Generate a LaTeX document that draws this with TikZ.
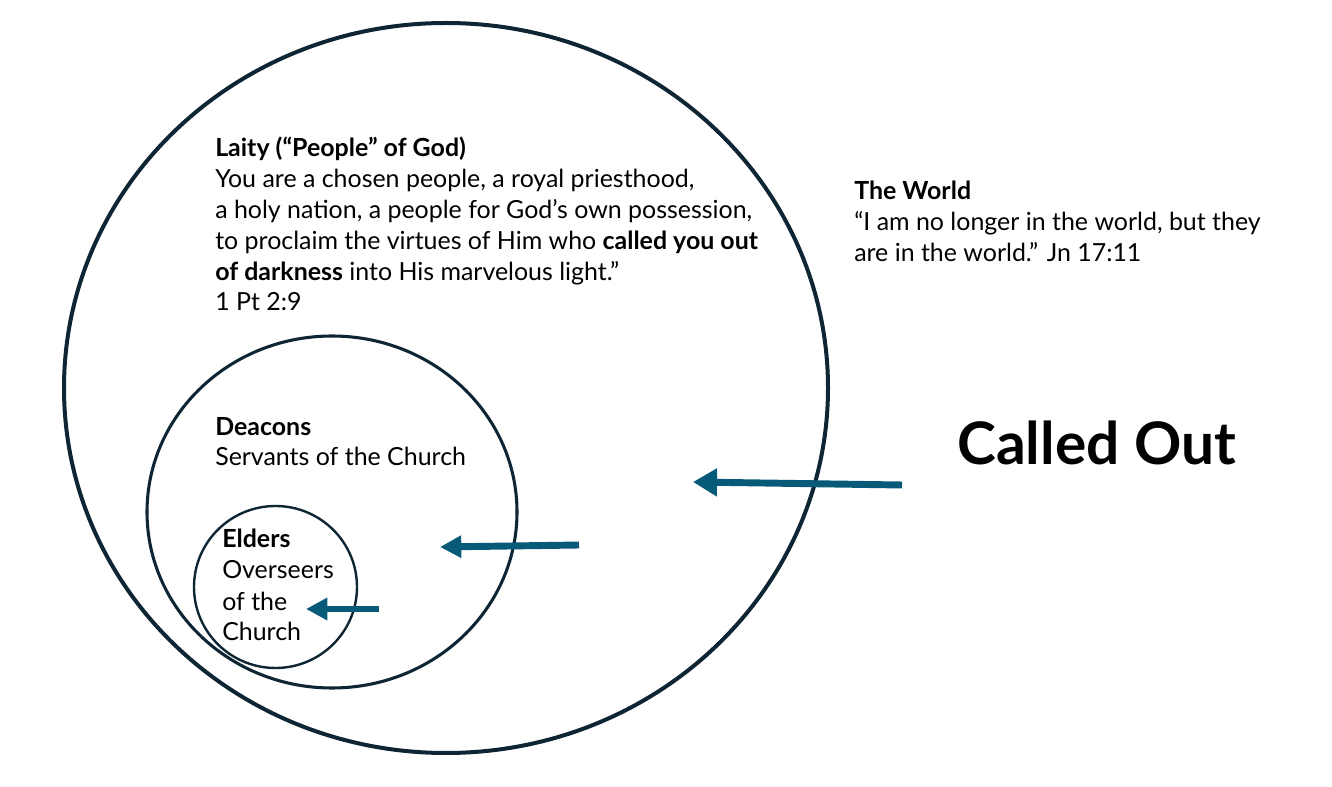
\documentclass[tikz,border=0pt]{standalone}
\usepackage{fontspec}
\setmainfont{Lato}
\usetikzlibrary{arrows.meta}
\definecolor{ring}{HTML}{0E2533}
\definecolor{arr}{HTML}{075A78}
\tikzset{
  txt/.style={anchor=base west, inner sep=0pt, font=\fontsize{18.7}{22}\selectfont},
  ringline/.style={draw=ring},
  callarrow/.style={draw=arr, line width=5.2pt, -{Triangle[length=18pt,width=20pt]}},
}
\begin{document}
\begin{tikzpicture}[x=0.75pt,y=-0.75pt]
\useasboundingbox (0,0) rectangle (1332,787);
% circles
\draw[ringline, line width=3pt] (446,388) ellipse [x radius=382, y radius=365];
\draw[ringline, line width=2.3pt] (332,512) ellipse [x radius=185, y radius=176];
\draw[ringline, line width=1.8pt] (275.5,587) ellipse [x radius=81.5, y radius=81];
% laity
\node[txt] (l1) at (215,157) {\textbf{Laity (“People” of God)}};
\node[txt] (l2) at (215,188) {You are a chosen people, a royal priesthood,};
\node[txt] (l3) at (215,219) {a holy nation, a people for God’s own possession,};
\node[txt] (l4) at (215,250) {to proclaim the virtues of Him who \textbf{called you out}};
\node[txt] (l5) at (215,281) {\textbf{of darkness} into His marvelous light.”};
\node[txt] (l6) at (215,311) {1 Pt 2:9};
% world
\node[txt] (w1) at (854,200) {\textbf{The World}};
\node[txt] (w2) at (854,231) {“I am no longer in the world, but they};
\node[txt] (w3) at (854,262) {are in the world.” Jn 17:11};
% deacons
\node[txt] (d1) at (215,436) {\textbf{Deacons}};
\node[txt] (d2) at (215,466) {Servants of the Church};
% elders
\node[txt] (e1) at (222,548) {\textbf{Elders}};
\node[txt] (e2) at (222,579) {Overseers};
\node[txt] (e3) at (222,610) {of the};
\node[txt] (e4) at (222,640) {Church};
% called out
\node[anchor=base west, inner sep=0pt, font=\fontsize{44}{50}\selectfont\bfseries] (co) at (957,465) {Called Out};
% arrows
\coordinate (a1s) at (902,485);
\coordinate (a1e) at (693,482);
\coordinate (a2s) at (579,545);
\coordinate (a2e) at (440,547);
\coordinate (a3s) at (379,609);
\coordinate (a3e) at (306,609);
\draw[callarrow] (a1s) -- (a1e);
\draw[callarrow, -{Triangle[length=16pt,width=16pt]}] (a2s) -- (a2e);
\draw[callarrow, -{Triangle[length=16pt,width=16pt]}] (a3s) -- (a3e);
\end{tikzpicture}
\end{document}
